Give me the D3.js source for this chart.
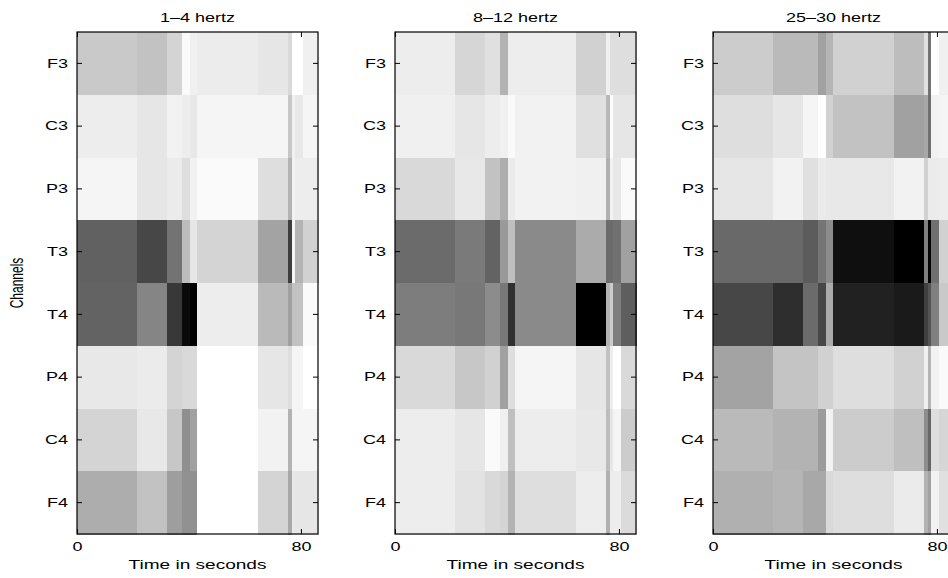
<!DOCTYPE html>
<html lang="en">
<head>
  <meta charset="UTF-8">
  <title>EEG band power by channel</title>
  <script src="https://d3js.org/d3.v7.min.js"></script>
  <style>
    body { margin: 0; background: #fff; font-family: "Liberation Sans", Arial, sans-serif; }
    svg { display: block; }
    .axis path { display: none; }
    .axis line { stroke: #000; }
    .lbl { font-size: 12px; fill: #000; }
    .xlbl { font-size: 12.7px; fill: #000; }
  </style>
</head>
<body>
<div id="chart"></div>
<script>
  // channels, top to bottom
  const channels = ["F3", "C3", "P3", "T3", "T4", "P4", "C4", "F4"];
  // segment edges in seconds (columns of each map)
  const edges = [0, 21.4, 32.1, 37.6, 40.2, 42.9, 64.6, 75.4, 76.9, 78, 80.8, 86.1];
  const xTicks = [0, 80];
  const titles = ["1\u20134 hertz", "8\u201312 hertz", "25\u201330 hertz"];

  // gray level per cell (0 = black, 1 = white), one row per channel
  const band1 = [
    [0.79, 0.76, 0.83, 0.98, 0.94, 0.925, 0.90, 0.85, 1.0, 1.0, 0.94],
    [0.93, 0.90, 0.95, 0.93, 0.91, 0.96, 0.96, 0.78, 0.95, 0.91, 0.96],
    [0.96, 0.90, 0.92, 0.87, 0.95, 0.98, 0.87, 0.70, 0.95, 0.93, 0.93],
    [0.38, 0.28, 0.45, 0.74, 0.90, 0.83, 0.64, 0.24, 0.96, 0.70, 0.82],
    [0.39, 0.52, 0.22, 0.04, 0.0, 0.93, 0.73, 0.63, 0.76, 0.76, 0.98],
    [0.91, 0.92, 0.83, 0.85, 0.85, 1.0, 0.90, 0.87, 0.96, 0.96, 1.0],
    [0.83, 0.91, 0.78, 0.56, 0.63, 1.0, 0.95, 0.70, 0.96, 0.96, 0.96],
    [0.68, 0.76, 0.62, 0.57, 0.57, 1.0, 0.83, 0.66, 0.91, 0.90, 0.90]
  ];
  const band2 = [
    [0.93, 0.84, 0.88, 0.70, 0.93, 0.93, 0.82, 0.94, 0.87, 0.87, 0.87],
    [0.94, 0.90, 0.93, 0.94, 0.98, 0.95, 0.88, 0.72, 0.99, 0.90, 0.90],
    [0.85, 0.91, 0.76, 0.68, 0.92, 0.95, 0.94, 0.69, 0.95, 0.91, 0.98],
    [0.42, 0.48, 0.39, 0.60, 0.75, 0.54, 0.67, 0.42, 0.42, 0.44, 0.63],
    [0.49, 0.47, 0.55, 0.47, 0.19, 0.54, 0.0, 0.70, 0.80, 0.49, 0.37],
    [0.85, 0.78, 0.82, 0.63, 0.87, 0.96, 0.90, 0.76, 0.93, 1.0, 0.85],
    [0.93, 0.90, 0.98, 0.94, 0.75, 0.93, 0.91, 0.74, 0.90, 0.96, 0.80],
    [0.93, 0.89, 0.85, 0.83, 0.70, 0.87, 0.93, 0.69, 0.93, 0.93, 0.86]
  ];
  const band3 = [
    [0.80, 0.73, 0.73, 0.63, 0.71, 0.82, 0.74, 0.88, 0.45, 1.0, 0.94],
    [0.87, 0.90, 0.96, 1.0, 0.82, 0.76, 0.63, 0.66, 0.44, 0.95, 0.96],
    [0.90, 0.95, 0.88, 0.92, 0.91, 0.91, 0.95, 0.82, 0.92, 0.92, 0.93],
    [0.41, 0.41, 0.36, 0.46, 0.55, 0.06, 0.0, 0.50, 0.02, 0.44, 0.82],
    [0.28, 0.18, 0.42, 0.28, 0.67, 0.13, 0.10, 0.25, 0.33, 0.50, 0.79],
    [0.64, 0.77, 0.77, 0.82, 0.82, 0.87, 0.82, 0.94, 0.71, 0.95, 0.98],
    [0.73, 0.70, 0.70, 0.61, 0.95, 0.80, 0.75, 0.55, 0.40, 0.87, 0.84],
    [0.69, 0.71, 0.66, 0.66, 0.85, 0.87, 0.92, 0.70, 0.63, 0.95, 0.88]
  ];
  const bands = [band1, band2, band3];

  const width = 948, height = 578;
  const panelLeft = [77, 395, 713];
  const plotTop = 32, plotW = 241, plotH = 502;
  const stretch = 1.5;  // the original figure text is wide

  const svg = d3.select("#chart").append("svg")
    .attr("width", width).attr("height", height);

  const x = d3.scaleLinear().domain([edges[0], edges[edges.length - 1]]).range([0, plotW]);
  const y = d3.scaleBand().domain(channels).range([0, plotH]);
  const gray = d3.scaleLinear().domain([0, 1]).range(["#000", "#fff"]);

  function wideText(sel) {
    // place each label with a horizontal stretch instead of x/y
    sel.each(function() {
      const t = d3.select(this);
      const tx = +t.attr("x") || 0, ty = +t.attr("y") || 0;
      t.attr("x", null).attr("y", null)
        .attr("transform", `translate(${tx},${ty}) scale(${stretch},1)`);
    });
  }

  bands.forEach((band, p) => {
    const g = svg.append("g").attr("transform", `translate(${panelLeft[p]},${plotTop})`);

    const cells = [];
    band.forEach((row, r) => row.forEach((v, c) => cells.push({ ch: channels[r], c, v })));

    g.selectAll("rect.cell")
      .data(cells)
      .join("rect")
      .attr("class", "cell")
      .attr("x", d => x(edges[d.c]))
      .attr("width", d => x(edges[d.c + 1]) - x(edges[d.c]) + 0.5)
      .attr("y", d => y(d.ch))
      .attr("height", y.bandwidth() + 0.5)
      .attr("fill", d => gray(d.v))
      .attr("shape-rendering", "crispEdges");

    g.append("rect")
      .attr("width", plotW).attr("height", plotH)
      .attr("fill", "none").attr("stroke", "#000").attr("stroke-width", 1.2);

    // y ticks, left with labels, right without
    const yl = g.append("g").attr("class", "axis")
      .call(d3.axisLeft(y).tickSize(-5).tickPadding(9));
    yl.attr("font-size", null).attr("font-family", null);
    yl.selectAll("text").attr("class", "lbl")
      .attr("dy", "0.35em").call(wideText);

    g.append("g").attr("class", "axis")
      .attr("transform", `translate(${plotW},0)`)
      .call(d3.axisRight(y).tickSize(-5).tickFormat(""));

    // x ticks, bottom with labels, top without
    const xb = g.append("g").attr("class", "axis")
      .attr("transform", `translate(0,${plotH})`)
      .call(d3.axisBottom(x).tickValues(xTicks).tickSize(-5).tickFormat(d3.format("d")));
    xb.attr("font-size", null).attr("font-family", null);
    xb.selectAll("text").attr("class", "lbl").attr("y", 17).attr("dy", null).call(wideText);

    g.append("g").attr("class", "axis")
      .call(d3.axisTop(x).tickValues(xTicks).tickSize(-5).tickFormat(""));

    g.append("text").attr("class", "xlbl")
      .attr("text-anchor", "middle")
      .attr("transform", `translate(${plotW / 2},${plotH + 35}) scale(${stretch},1)`)
      .text("Time in seconds");

    g.append("text").attr("class", "lbl")
      .attr("text-anchor", "middle")
      .attr("transform", `translate(${plotW / 2},-10) scale(${stretch},1)`)
      .text(titles[p]);
  });

  svg.append("text").attr("class", "lbl")
    .attr("text-anchor", "middle")
    .attr("transform", `translate(23,${plotTop + plotH / 2}) scale(${stretch},1) rotate(-90)`)
    .text("Channels");
</script>
</body>
</html>
